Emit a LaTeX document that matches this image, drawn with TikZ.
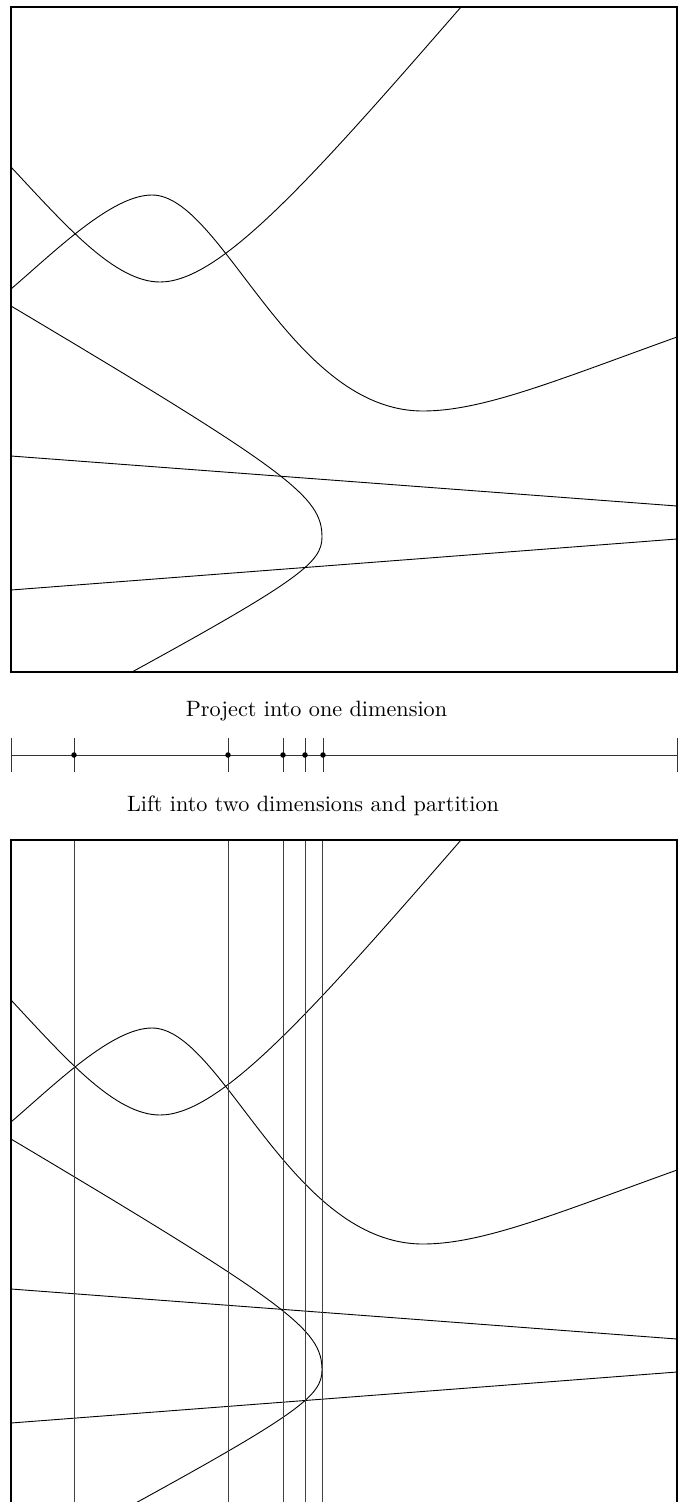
\documentclass[tikz,border=0pt]{standalone}
\tikzset{
  curve/.style={line width=0.9pt, black},
  frame/.style={line width=1.3pt, black},
  part/.style={line width=0.9pt, black!75},
  tick/.style={line width=0.9pt, black!80},
  dotmark/.style={circle, fill=black, inner sep=0pt, minimum size=5.5pt},
  caption/.style={font=\fontsize{10}{12}\selectfont, scale=2.22, inner sep=0pt, anchor=base}
}
\newcommand{\mycurves}{%
  % curve A
  \draw[curve] (11,289) .. controls (56,250.3) and (112,195) .. (152,195)
    .. controls (222,195) and (290,411) .. (423,411)
    .. controls (483,411) and (557,380.2) .. (677,337);
  % curve B
  \draw[curve] (11,167) .. controls (66,226) and (115,282) .. (160,282)
    .. controls (220,282) and (311,179.5) .. (461,7);
  % curve C
  \draw[curve] (11,306) .. controls (290,472) and (322,497) .. (322,537)
    .. controls (322,562) and (300,580) .. (132,672);
  % lines
  \draw[curve] (11,456) -- (677,506);
  \draw[curve] (11,590) -- (677,539);
}
\begin{document}
\begin{tikzpicture}[x=1pt,y=-1pt]
\useasboundingbox (0,0) rectangle (684,1502);
% top box
\begin{scope}
  \clip (11,7) rectangle (677,672);
  \mycurves
\end{scope}
\draw[frame] (11,7) rectangle (677,672);
% caption 1
\node[caption] (cap1) at (316.5,716.5) {Project into one dimension};
% number line
\coordinate (nl) at (11,755);
\coordinate (nr) at (677,755);
\draw[tick] (nl) -- (nr);
\draw[tick] (11,738) -- (11,772);
\draw[tick] (677,738) -- (677,772);
\foreach \x/\n in {74/p1,228/p2,283/p3,305/p4,323/p5}{
  \draw[tick] (\x,738) -- (\x,772);
  \node[dotmark] (\n) at (\x,755) {};
}
% caption 2
\node[caption] (cap2) at (313,811) {Lift into two dimensions and partition};
% bottom box
\begin{scope}
  \clip (11,840) rectangle (677,1505);
  \begin{scope}[shift={(0,833)}]
    \mycurves
  \end{scope}
  \foreach \x in {74,228,283,305,322}{
    \draw[part] (\x,840) -- (\x,1505);
  }
\end{scope}
\draw[frame] (11,1505) -- (11,840) -- (677,840) -- (677,1505);
\end{tikzpicture}
\end{document}
